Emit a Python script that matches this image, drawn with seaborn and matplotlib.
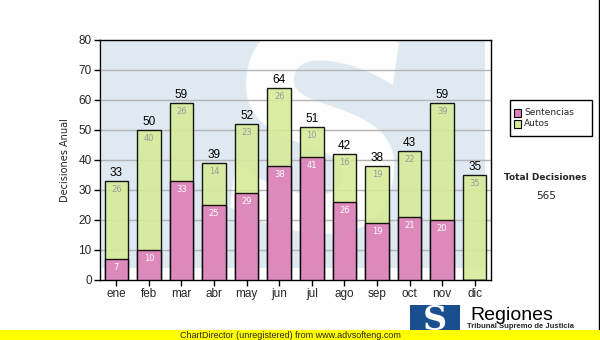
import matplotlib
matplotlib.use("Agg")
import matplotlib.pyplot as plt
import seaborn as sns
import pandas as pd
from matplotlib.patches import Rectangle

months = ["ene", "feb", "mar", "abr", "may", "jun", "jul", "ago", "sep", "oct", "nov", "dic"]
sentencias = [7, 10, 33, 25, 29, 38, 41, 26, 19, 21, 20, 0]
autos = [26, 40, 26, 14, 23, 26, 10, 16, 19, 22, 39, 35]
totals = [s + a for s, a in zip(sentencias, autos)]
y_ticks = [0, 10, 20, 30, 40, 50, 60, 70, 80]

df = pd.DataFrame({"mes": months, "Sentencias": sentencias, "Autos": autos, "Total": totals})

sns.set_theme(style="white")
plt.rcParams["font.family"] = ["DejaVu Sans"]

PINK = "#de7fc0"
GREEN = "#d6ec98"

fig = plt.figure(figsize=(6.0, 3.4), dpi=100)
W, H = 600, 340
ax = fig.add_axes([100 / W, 1 - 280 / H, 391 / W, 240 / H])
ax.set_facecolor("white")

# watermark (light blue square with white S)
ax.add_patch(Rectangle((2 / 391, 12 / 240), 383 / 391, 228 / 240, transform=ax.transAxes,
                       facecolor="#dfe9f2", edgecolor="none", zorder=0))
ax.text(0.55, 0.52, "S", transform=ax.transAxes, fontsize=200, fontweight="bold",
        family="DejaVu Sans", color="white", ha="center", va="center", rotation=-8,
        zorder=0.2, clip_on=True)

sns.barplot(data=df, x="mes", y="Total", color=GREEN, edgecolor="black", linewidth=1.0,
            width=0.72, ax=ax, zorder=2, alpha=0.9, saturation=1)
sns.barplot(data=df, x="mes", y="Sentencias", color=PINK, edgecolor="black", linewidth=1.0,
            width=0.72, ax=ax, zorder=3, alpha=0.9, saturation=1)

ax.set_ylim(0, 80)
ax.set_xlim(-0.5, len(months) - 0.5)
ax.set_yticks(y_ticks)
ax.set_yticklabels([str(v) for v in y_ticks], family="Liberation Sans", fontsize=8.5)
ax.set_xticks(range(len(months)))
ax.set_xticklabels(months, family="Liberation Sans", fontsize=8.5)
ax.tick_params(axis="both", direction="out", length=4, width=1, color="black", pad=2,
               bottom=True, left=True)
ax.set_xlabel("")
ax.set_ylabel("Decisiones Anual", fontsize=7, labelpad=6)
for g in y_ticks[1:-1]:
    ax.axhline(g, color="#b4b4b4", lw=1, zorder=1)
for sp in ax.spines.values():
    sp.set_visible(True)
    sp.set_color("black")
    sp.set_linewidth(1)

for i in range(len(months)):
    ax.text(i, totals[i] + 0.6, str(totals[i]), ha="center", va="bottom",
            family="Liberation Sans", fontsize=8.5, color="black", zorder=5)
    ax.text(i, totals[i] - 1.2, str(autos[i]), ha="center", va="top",
            fontsize=6, color="#9a9a9a", zorder=5)
    if sentencias[i] > 0:
        ax.text(i, sentencias[i] - 1.2, str(sentencias[i]), ha="center", va="top",
                fontsize=6, color="white", zorder=5)

# legend box
fig.patches.append(Rectangle((510 / W, 1 - 136 / H), 82 / W, 36 / H, transform=fig.transFigure,
                             facecolor="white", edgecolor="black", lw=1))
for k, (lab, col) in enumerate([("Sentencias", PINK), ("Autos", GREEN)]):
    yc = 113 + k * 11
    fig.patches.append(Rectangle((514 / W, 1 - (yc + 3.5) / H), 7 / W, 7 / H,
                                 transform=fig.transFigure, facecolor=col,
                                 edgecolor="black", lw=0.8))
    fig.text(524 / W, 1 - yc / H, lab, fontsize=6.5, va="center", ha="left")

fig.text(545 / W, 1 - 177 / H, "Total Decisiones", fontsize=6.5, fontweight="bold",
         ha="center", va="center")
fig.text(546 / W, 1 - 196 / H, "565", fontsize=7.5, ha="center", va="center")

# right border line
fig.add_artist(plt.Line2D([598.5 / W, 598.5 / W], [1 - 330 / H, 1], color="black", lw=1,
                          transform=fig.transFigure))

# logo
fig.patches.append(Rectangle((410 / W, 0), 50 / W, 35 / H, transform=fig.transFigure,
                             facecolor="#1a4f8f", edgecolor="none"))
fig.text(435 / W, 1 - 320 / H, "S", fontsize=24, fontweight="bold", color="white",
         ha="center", va="center", family="DejaVu Serif")
fig.text(470 / W, 1 - 315 / H, "Regiones", fontsize=14, family="Liberation Sans",
         ha="left", va="center", color="black")
fig.text(467 / W, 1 - 326.5 / H, "Tribunal Supremo de Justicia", fontsize=5.5,
         family="Liberation Sans", fontweight="bold", ha="left", va="center")

# yellow band
fig.patches.append(Rectangle((0, 0), 1, 10 / H, transform=fig.transFigure,
                             facecolor="#ffff00", edgecolor="none", zorder=10))
fig.text(290 / W, 1 - 335 / H, "ChartDirector (unregistered) from www.advsofteng.com",
         fontsize=6.5, family="Liberation Sans", ha="center", va="center", zorder=11)

fig.savefig("out.png", dpi=100)
